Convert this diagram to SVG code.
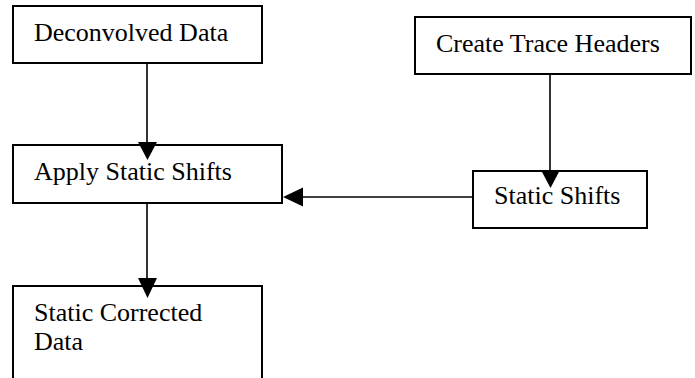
<svg xmlns="http://www.w3.org/2000/svg" width="695" height="378" viewBox="0 0 695 378">
  <style>
    .box { fill: #ffffff; stroke: #000000; stroke-width: 2; }
    .label { font-family: "Liberation Serif", "Times New Roman", serif; font-size: 26px; fill: #000000; }
    .wire { fill: none; stroke: #000000; stroke-width: 1.6; }
    .head { fill: #000000; stroke: none; }
  </style>
  <rect width="695" height="378" fill="#ffffff"/>

  <g id="node-deconvolved">
    <rect class="box" x="13" y="6" width="249" height="57"/>
    <text class="label" x="34" y="41">Deconvolved Data</text>
  </g>

  <g id="node-trace-headers">
    <rect class="box" x="415" y="17" width="276" height="57"/>
    <text class="label" x="436" y="52">Create Trace Headers</text>
  </g>

  <g id="node-apply-shifts">
    <rect class="box" x="13" y="145" width="269" height="58"/>
    <text class="label" x="34" y="180">Apply Static Shifts</text>
  </g>

  <g id="node-static-shifts">
    <rect class="box" x="473" y="171" width="174" height="57"/>
    <text class="label" x="494" y="204">Static Shifts</text>
  </g>

  <g id="node-corrected">
    <rect class="box" x="13" y="286" width="249" height="110"/>
    <text class="label" x="34" y="321">Static Corrected</text>
    <text class="label" x="34" y="350">Data</text>
  </g>

  <g id="connectors">
    <line class="wire" x1="147" y1="63" x2="147" y2="144"/>
    <polygon class="head" points="138,142 157,142 147.5,160"/>

    <line class="wire" x1="550" y1="74" x2="550" y2="172"/>
    <polygon class="head" points="541,170 560,170 550.5,188"/>

    <line class="wire" x1="473" y1="197" x2="300" y2="197"/>
    <polygon class="head" points="303,187.5 303,206.5 283,197"/>

    <line class="wire" x1="147" y1="203" x2="147" y2="280"/>
    <polygon class="head" points="138,278 157,278 147.5,298"/>
  </g>
</svg>
